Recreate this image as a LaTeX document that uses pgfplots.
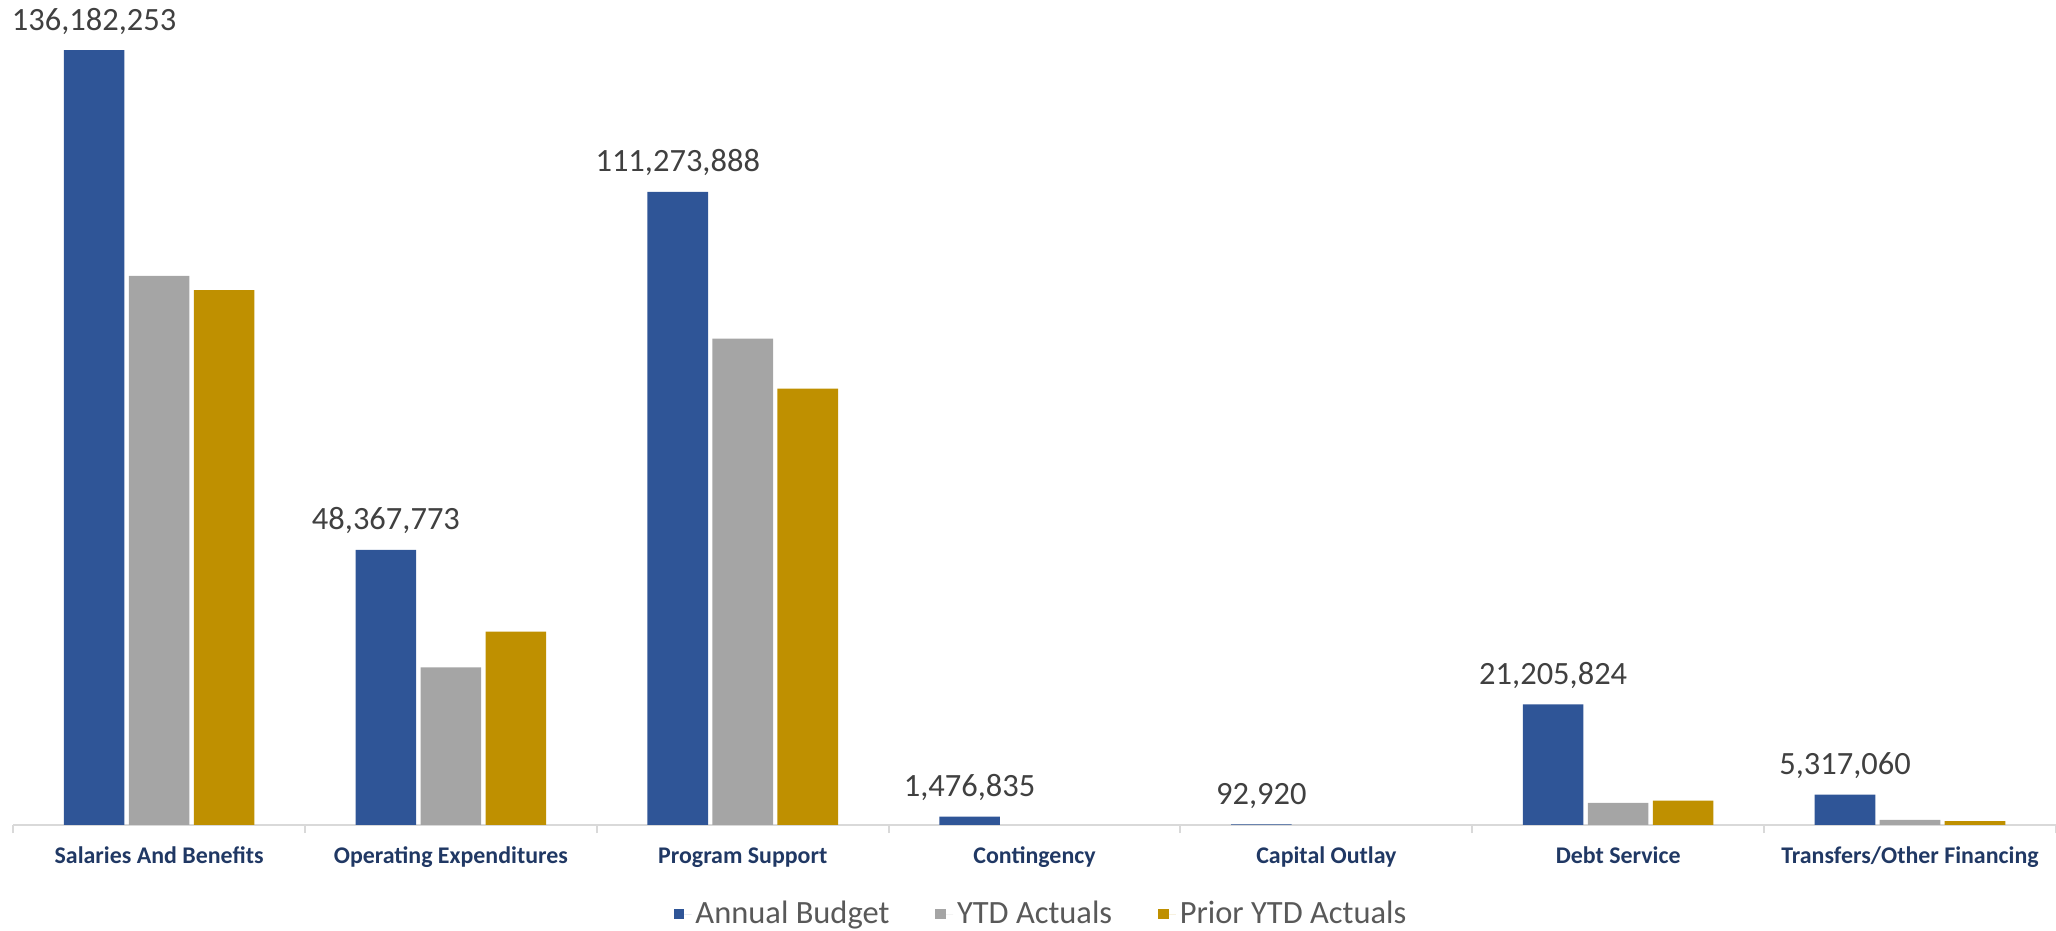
\documentclass[border=0pt]{standalone}
\usepackage{pgfplots}
\pgfplotsset{compat=1.18}
\usepackage{pgfplotstable}
\usepackage{fontspec}
\setmainfont{Carlito}
\definecolor{cBud}{HTML}{2F5597}
\definecolor{cYtd}{HTML}{A5A5A5}
\definecolor{cPri}{HTML}{BF9000}
\definecolor{cLab}{HTML}{404040}
\definecolor{cCat}{HTML}{203864}
\definecolor{cAx}{HTML}{D9D9D9}
\definecolor{cLeg}{HTML}{595959}

\pgfplotstableread{
x budget ytd prior lab
0 136.182253 96.5 94.0 136,182,253
1 48.367773 27.7 34.0 48,367,773
2 111.273888 85.5 76.7 111,273,888
3 1.476835 0 0 1,476,835
4 0.092920 0 0 92,920
5 21.205824 3.9 4.3 21,205,824
6 5.317060 0.88 0.7 5,317,060
}\data

\begin{document}
\begin{tikzpicture}
\useasboundingbox (0,0) rectangle (1028bp,465.5bp);
\begin{axis}[
  at={(6.6bp,53bp)}, anchor=south west,
  scale only axis, width=1021.4bp, height=412.5bp,
  xmin=-0.5, xmax=6.5, ymin=0, ymax=145,
  axis x line*=bottom, axis y line=none,
  x axis line style={cAx, line width=1bp},
  xtick={0,...,6},
  xticklabels={Salaries And Benefits, Operating Expenditures, Program Support, Contingency, Capital Outlay, Debt Service, Transfers/Other Financing},
  major tick length=0pt,
  minor xtick={-0.5,0.5,...,6.5},
  minor tick length=4bp,
  tick align=outside,
  minor x tick style={cAx, line width=1bp},
  ytick=\empty,
  xticklabel style={font=\fontsize{12}{14}\selectfont\bfseries, text=cCat, anchor=base, yshift=-19bp},
  ybar, bar width=30.3bp,
  legend style={at={(0.5037,-0.1079)}, anchor=center, draw=none, fill=none,
    legend columns=3, font=\fontsize{16.3}{19}\selectfont, text=cLeg,
    /tikz/every even column/.append style={column sep=21bp}},
  legend image code/.code={\fill[#1] (0bp,-2.6bp) rectangle (5.2bp,2.6bp); \path (5.2bp,0bp) -- (8.8bp,0bp);},
]
\addplot[fill=cBud, draw=none, bar shift=-32.5bp,
  nodes near coords, point meta=explicit symbolic,
  nodes near coords style={font=\fontsize{16.3}{18}\selectfont, text=cLab, anchor=base, inner sep=0pt, yshift=10bp}]
  table[x=x, y=budget, meta=lab]{\data};
\addlegendentry{Annual Budget}
\addplot[fill=cYtd, draw=none, bar shift=0bp] table[x=x, y=ytd]{\data};
\addlegendentry{YTD Actuals}
\addplot[fill=cPri, draw=none, bar shift=32.5bp] table[x=x, y=prior]{\data};
\addlegendentry{Prior YTD Actuals}
\end{axis}
\end{tikzpicture}
\end{document}
